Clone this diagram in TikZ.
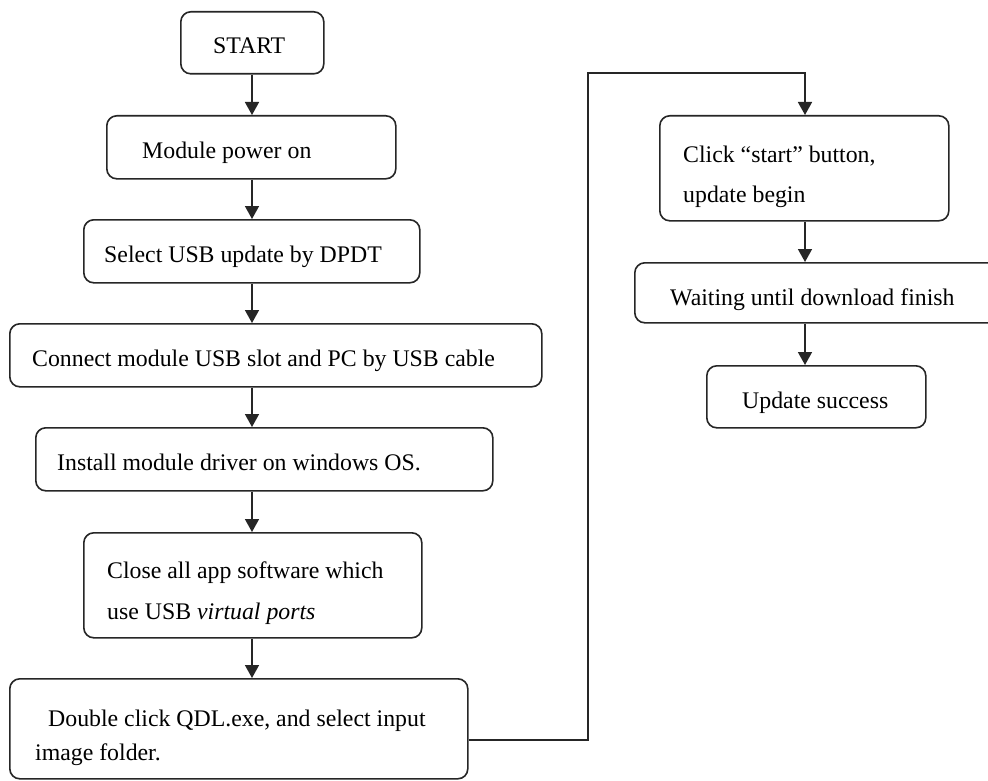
\documentclass[tikz,border=0pt]{standalone}
\usepackage{fontspec}
\setmainfont{Liberation Serif}
\usetikzlibrary{arrows.meta}
\begin{document}
\begin{tikzpicture}[x=1pt,y=-1pt,
  stepbox/.style={draw=black!85, line width=1.6pt, rounded corners=10pt, rectangle,
    inner sep=0pt, anchor=north west},
  lbl/.style={anchor=base west, inner sep=0pt, font=\fontsize{23.8}{28}\selectfont},
  arr/.style={draw=black!85, line width=1.6pt, -{Triangle[width=14pt,length=13pt]}},
  conn/.style={draw=black!85, line width=1.6pt}]
\useasboundingbox (0,0) rectangle (988,781);
\clip (0,0) rectangle (988,781);
\fill[white] (0,0) rectangle (988,781);
\coordinate (xl) at (252,0);
\coordinate (xr) at (805,0);
% left column boxes
\node[stepbox, minimum width=143pt, minimum height=62pt] (b1) at (180,11) {};
\node[stepbox, minimum width=289pt, minimum height=63pt] (b2) at (106,115) {};
\node[stepbox, minimum width=336pt, minimum height=63pt] (b3) at (83,219) {};
\node[stepbox, minimum width=532pt, minimum height=63pt] (b4) at (9,323) {};
\node[stepbox, minimum width=457pt, minimum height=63pt] (b5) at (35,427) {};
\node[stepbox, minimum width=338pt, minimum height=105pt] (b6) at (83,532) {};
\node[stepbox, minimum width=458pt, minimum height=100pt] (b7) at (9,678) {};
% right column boxes
\node[stepbox, minimum width=289pt, minimum height=105pt] (b8) at (659,115) {};
\node[stepbox, minimum width=380pt, minimum height=60pt] (b9) at (634,262) {};
\node[stepbox, minimum width=219pt, minimum height=62pt] (b10) at (706,365) {};
% texts
\node[lbl] (t1) at (213,54) {START};
\node[lbl] (t2) at (142,158) {Module power on};
\node[lbl] (t3) at (104,262) {Select USB update by DPDT};
\node[lbl] (t4) at (32,366) {Connect module USB slot and PC by USB cable};
\node[lbl] (t5) at (57,470) {Install module driver on windows OS.};
\node[lbl] (t6a) at (107,578) {Close all app software which};
\node[lbl] (t6b) at (107,619) {use USB \textit{virtual ports}};
\node[lbl] (t7a) at (48,726) {Double click QDL.exe, and select input};
\node[lbl] (t7b) at (35,760) {image folder.};
\node[lbl] (t8a) at (683,162) {Click “start” button,};
\node[lbl] (t8b) at (683,202) {update begin};
\node[lbl] (t9) at (670,305) {Waiting until download finish};
\node[lbl] (t10) at (742,408) {Update success};
% connectors
\draw[arr] (b1.south -| xl) -- (b2.north -| xl);
\draw[arr] (b2.south -| xl) -- (b3.north -| xl);
\draw[arr] (b3.south -| xl) -- (b4.north -| xl);
\draw[arr] (b4.south -| xl) -- (b5.north -| xl);
\draw[arr] (b5.south -| xl) -- (b6.north -| xl);
\draw[arr] (b6.south -| xl) -- (b7.north -| xl);
\coordinate (c1) at (588,740);
\coordinate (c2) at (588,73);
\draw[arr] (b7.east |- c1) -- (c1) -- (c2) -- (c2 -| xr) -- (b8.north -| xr);
\draw[arr] (b8.south -| xr) -- (b9.north -| xr);
\draw[arr] (b9.south -| xr) -- (b10.north -| xr);
\end{tikzpicture}
\end{document}
